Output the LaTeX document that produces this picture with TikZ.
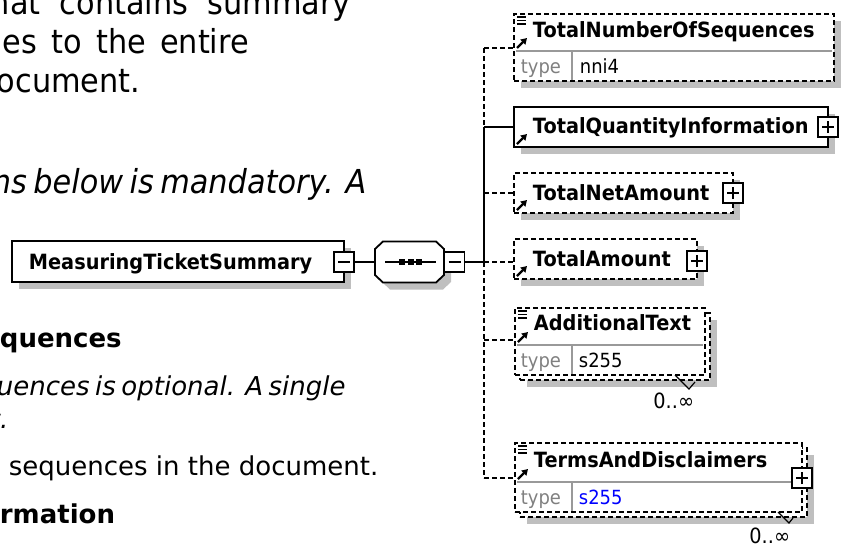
\documentclass[tikz,border=0pt]{standalone}
\usepackage{fontspec}
\setmainfont{DejaVu Sans}
\newfontfamily\pagefont[FakeStretch=0.92]{DejaVu Sans}
\newfontfamily\schemafont[FakeStretch=0.92]{DejaVu Sans}
\usetikzlibrary{arrows.meta,shadows}

\begin{document}
\begin{tikzpicture}[
    x=1pt,
    y=-1pt,
    line width=1.8pt,
    para/.style={
        anchor=base west,
        inner sep=0pt,
        font=\pagefont\fontsize{33}{38}\selectfont
    },
    parb/.style={
        anchor=base west,
        inner sep=0pt,
        font=\fontsize{26}{30}\selectfont
    },
    elbox/.style={
        draw,
        fill=white,
        anchor=north west,
        inner sep=0pt,
        outer sep=0pt
    },
    optbox/.style={
        elbox,
        dash pattern=on 5pt off 3pt
    },
    elshadow/.style={
        drop shadow={shadow xshift=7pt,shadow yshift=-7pt,fill=black!25,opacity=1}
    },
    optline/.style={
        dash pattern=on 5pt off 3pt
    },
    rowline/.style={
        draw=black!40,
        line width=1.2pt
    },
    elname/.style={
        anchor=base west,
        inner sep=0pt,
        font=\schemafont\bfseries\fontsize{21}{24}\selectfont
    },
    typelbl/.style={
        anchor=base west,
        inner sep=0pt,
        text=black!50,
        font=\schemafont\fontsize{19.5}{22}\selectfont
    },
    typeval/.style={
        anchor=base west,
        inner sep=0pt,
        font=\schemafont\fontsize{19.5}{22}\selectfont
    },
    card/.style={
        anchor=base east,
        inner sep=0pt,
        font=\schemafont\fontsize{21}{24}\selectfont
    },
    cardtail/.style={
        line width=1.2pt
    },
    togminus/.style={
        draw,
        fill=white,
        line width=1.4pt,
        minimum size=20pt,
        inner sep=0pt,
        path picture={
            \draw[line width=1.4pt]
                ([xshift=4pt]path picture bounding box.west) --
                ([xshift=-4pt]path picture bounding box.east);
        }
    },
    togplus/.style={
        draw,
        fill=white,
        line width=1.4pt,
        minimum size=20pt,
        inner sep=0pt,
        path picture={
            \draw[line width=1.4pt]
                ([xshift=4pt]path picture bounding box.west) --
                ([xshift=-4pt]path picture bounding box.east)
                ([yshift=4pt]path picture bounding box.south) --
                ([yshift=-4pt]path picture bounding box.north);
        }
    },
    simpleicon/.pic={
        \draw[line width=1.2pt] (3,3) -- (12,3) (3,6.5) -- (12,6.5) (3,10) -- (12,10);
    },
    refarrow/.pic={
        \draw[line width=2.2pt,-{Triangle[length=6pt,width=7pt]}] (3,-3) -- (13,-13);
    }
]
    \useasboundingbox (0,0) rectangle (841,547);
    \clip (0,0) rectangle (841,547);

    \node[para] (p-summary) at (-10,14)
        {\makebox[360pt][s]{hat contains summary}};
    \node[para] (p-entire) at (2,53)
        {\makebox[246pt][s]{es to the entire}};
    \node[para] (p-doc) at (-4,92) {ocument.};
    \node[para] (p-mand) at (-9,193)
        {\itshape\makebox[372pt][s]{ns below is mandatory. A}};

    \node[parb] (p-seqhead) at (-1,347) {\bfseries quences};
    \node[parb] (p-optional) at (-4,395)
        {\itshape\makebox[346pt][s]{uences is optional. A single}};
    \node[parb] (p-tail) at (-11,428) {\itshape t.};
    \node[parb] (p-count) at (8,475) {sequences in the document.};
    \node[parb] (p-infohead) at (-1,523) {\bfseries rmation};

    \node[elbox,elshadow,minimum width=332pt,minimum height=41pt] (root) at (12,241) {};
    \node[elname] (root-name) at (28,269) {MeasuringTicketSummary};
    \node[togminus] (root-tog) at (344,262) {};

    \fill[black!25,shift={(7,7)}] (375,249) -- (383,241.5) -- (436,241.5) -- (444,249)
        -- (444,275) -- (436,282.5) -- (383,282.5) -- (375,275) -- cycle;
    \draw[fill=white] (375,249) -- (383,241.5) -- (436,241.5) -- (444,249)
        -- (444,275) -- (436,282.5) -- (383,282.5) -- (375,275) -- cycle;
    \node[minimum width=69pt,minimum height=41pt,inner sep=0pt] (seq) at (409.5,262) {};
    \draw[line width=1.5pt] ([xshift=11pt]seq.west) -- ([xshift=-9pt]seq.east);
    \fill (399,259) rectangle +(6,6);
    \fill (407.5,259) rectangle +(6,6);
    \fill (416,259) rectangle +(6,6);
    \node[togminus] (seq-tog) at (454.5,262) {};

    \coordinate (spine) at (484,262);
    \coordinate (b-tns) at (484,48);
    \coordinate (b-tqi) at (484,127);
    \coordinate (b-tna) at (484,193);
    \coordinate (b-addtxt) at (484,340);
    \coordinate (b-terms) at (484,478);

    \draw (root-tog) -- (seq);
    \draw (seq-tog) -- (spine);
    \draw[optline] (b-tns) -- (b-tqi);
    \draw (b-tqi) -- (spine);
    \draw[optline] (spine) -- (b-terms);

    \node[optbox,elshadow,minimum width=320pt,minimum height=67pt] (tns) at (514,14) {};
    \draw[rowline] (516,51) -- (832,51);
    \draw[rowline] (572,51) -- (572,80);
    \pic at (514,14) {simpleicon};
    \pic at (514,51) {refarrow};
    \node[elname] (tns-name) at (532,37) {TotalNumberOfSequences};
    \node[typelbl] (tns-type) at (520,73) {type};
    \node[typeval] (tns-val) at (579,73) {nni4};

    \node[elbox,elshadow,minimum width=314pt,minimum height=40pt] (tqi) at (514,107) {};
    \pic at (514,147) {refarrow};
    \node[elname] (tqi-name) at (532,133) {TotalQuantityInformation};
    \node[togplus] (tqi-tog) at (828,127) {};

    \node[optbox,elshadow,minimum width=219pt,minimum height=40pt] (tna) at (514,173) {};
    \pic at (514,213) {refarrow};
    \node[elname] (tna-name) at (532,200) {TotalNetAmount};
    \node[togplus] (tna-tog) at (733,193) {};

    \node[optbox,elshadow,minimum width=183pt,minimum height=40pt] (ta) at (514,239) {};
    \pic at (514,279) {refarrow};
    \node[elname] (ta-name) at (532,266) {TotalAmount};
    \node[togplus] (ta-tog) at (697,261) {};

    \node[optbox,elshadow,minimum width=190pt,minimum height=67pt] (addtxt-back) at (520,313) {};
    \node[optbox,minimum width=190pt,minimum height=67pt] (addtxt) at (515,308) {};
    \draw[rowline] (517,345) -- (703,345);
    \draw[rowline] (572,345) -- (572,374);
    \pic at (515,308) {simpleicon};
    \pic at (515,345) {refarrow};
    \node[elname] (addtxt-name) at (533,330) {AdditionalText};
    \node[typelbl] (addtxt-type) at (520,367) {type};
    \node[typeval] (addtxt-val) at (578,367) {s255};
    \draw[cardtail] (675,375) -- (689,389) -- (695,382);
    \node[card] (addtxt-card) at (695,408) {0..∞};

    \node[optbox,elshadow,minimum width=287pt,minimum height=69pt] (terms-back) at (520,448) {};
    \node[optbox,minimum width=287pt,minimum height=69pt] (terms) at (515,443) {};
    \draw[rowline] (517,482) -- (800,482);
    \draw[rowline] (572,482) -- (572,511);
    \pic at (515,443) {simpleicon};
    \pic at (515,482) {refarrow};
    \node[elname] (terms-name) at (533,467) {TermsAndDisclaimers};
    \node[typelbl] (terms-type) at (520,504) {type};
    \node[typeval,text=blue] (terms-val) at (578,504) {s255};
    \node[togplus] (terms-tog) at (802,478) {};
    \draw[cardtail] (778,512) -- (789,523) -- (793,518);
    \node[card] (terms-card) at (791,543) {0..∞};

    \draw[optline] (b-tns) -- (b-tns -| tns.west);
    \draw (b-tqi) -- (tqi);
    \draw[optline] (b-tna) -- (tna);
    \draw[optline] (spine) -- (spine -| ta.west);
    \draw[optline] (b-addtxt) -- (b-addtxt -| addtxt.west);
    \draw[optline] (b-terms) -- (b-terms -| terms.west);
\end{tikzpicture}
\end{document}
